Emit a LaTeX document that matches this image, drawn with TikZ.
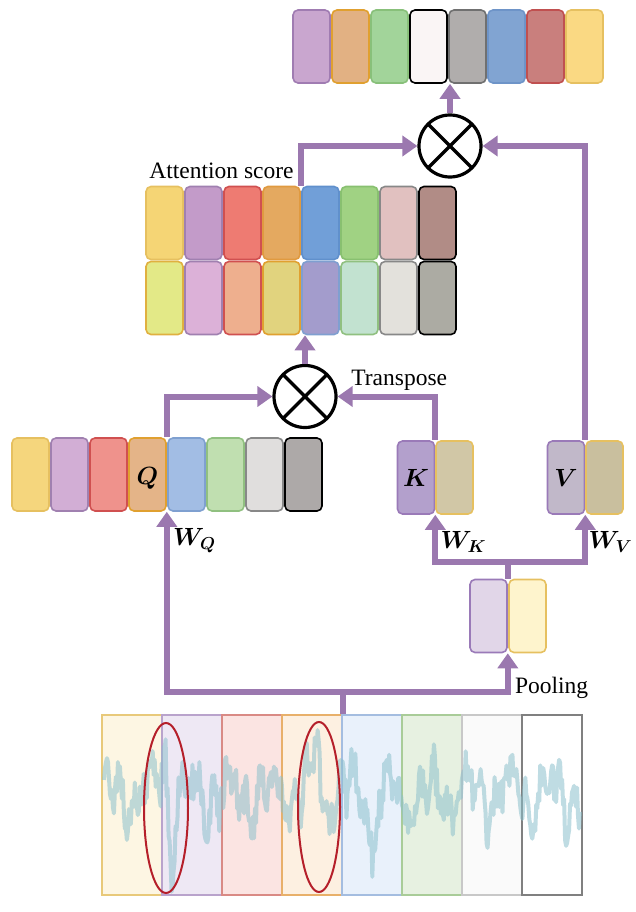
\documentclass[tikz,border=0pt]{standalone}
\usepackage{fontspec}
\setmainfont{Liberation Serif}
\usepackage{bm}
\usetikzlibrary{arrows.meta,calc}
\definecolor{flow}{HTML}{9B78AF}
\definecolor{ring}{HTML}{B51F2A}
\definecolor{wave}{HTML}{8CC0CC}
\definecolor{kfill}{HTML}{B3A0CC}
\definecolor{vfill}{HTML}{C1B8C9}
\definecolor{kvborder}{HTML}{9A7AB8}
\definecolor{kvtone}{HTML}{D1C7A6}
\definecolor{vtone}{HTML}{C9BF9E}
\definecolor{toneborder}{HTML}{E6C060}
\definecolor{poolfill}{HTML}{E1D6E8}
\definecolor{pooltone}{HTML}{FEF4CD}

\begin{document}
\begin{tikzpicture}[
  x=1pt, y=-1pt,
  font=\fontsize{23.5}{28}\selectfont,
  cell/.style={rounded corners=5pt, line width=1.6pt, minimum width=37pt, minimum height=73pt, inner sep=0pt},
  panel/.style={line width=1.5pt, minimum width=60pt, minimum height=180pt, inner sep=0pt},
  flowline/.style={draw=flow, line width=6pt, -{Triangle[length=15pt, width=20pt]}},
  mul/.style={circle, draw, line width=3.2pt, minimum size=62pt, inner sep=0pt,
    path picture={\draw[line width=3.2pt] (path picture bounding box.north west) -- (path picture bounding box.south east)
      (path picture bounding box.north east) -- (path picture bounding box.south west);}},
  lbl/.style={inner sep=0pt}
]
\useasboundingbox (0,0) rectangle (635,912);

% Output sequence
\foreach \f/\d [count=\i] in {C9A6CF/A07CB2, E2B183/E0A030, A2D49A/88C07A, FAF5F5/000000, B0ADAC/707070, 81A4D2/6E94C8, C97F7D/C05050, FAD983/E6C060} {
  \definecolor{cf}{HTML}{\f}\definecolor{cd}{HTML}{\d}
  \node[cell, fill=cf, draw=cd] (out\i) at ({311.5+39*(\i-1)}, 46.5) {};
}

% Attention score, two rows
\foreach \f/\d [count=\i] in {F5D575/E6C060, C39BC9/A080B0, EE7B72/D05050, E4A960/E09A40, 719FD8/6090CC, A0D283/88C070, E1C1C0/888888, B18C86/000000} {
  \definecolor{cf}{HTML}{\f}\definecolor{cd}{HTML}{\d}
  \node[cell, fill=cf, draw=cd] (atta\i) at ({164.5+39*(\i-1)}, 223) {};
}
\foreach \f/\d [count=\i] in {E3E987/E0B040, DCB1D8/A080B0, EEAF8E/D05050, E1D37E/E0A030, A39CCC/7F9FD0, C2E2D0/90C080, E3E1DC/888888, ACABA3/000000} {
  \definecolor{cf}{HTML}{\f}\definecolor{cd}{HTML}{\d}
  \node[cell, fill=cf, draw=cd] (attb\i) at ({164.5+39*(\i-1)}, 298) {};
}
\node[lbl, anchor=base west] (attlbl) at ($(atta1.north west)+(4,-7)$) {Attention score};

% Query sequence
\foreach \f/\d [count=\i] in {F5D67D/E6C060, D2AED5/A080B0, EF928C/D05050, E4B488/E0A030, A2BDE4/7FA0D0, C0DFB0/90C080, E0DEDD/888888, ADA9A8/000000} {
  \definecolor{cf}{HTML}{\f}\definecolor{cd}{HTML}{\d}
  \node[cell, fill=cf, draw=cd] (q\i) at ({30.5+39*(\i-1)}, 474.5) {};
}
\node[lbl] (qlbl) at ($(q4)+(0,4)$) {$\bm{Q}$};

% Key, value and pooled tokens
\node[cell, fill=kfill, draw=kvborder] (k1) at (416,477.5) {$\bm{K}$};
\node[cell, fill=kvtone, draw=toneborder] (k2) at (454.5,477.5) {};
\node[cell, fill=vfill, draw=kvborder] (v1) at (566,477.5) {$\bm{V}$};
\node[cell, fill=vtone, draw=toneborder] (v2) at (604.5,477.5) {};
\node[cell, fill=poolfill, draw=kvborder] (pool1) at (488.5,616) {};
\node[cell, fill=pooltone, draw=toneborder] (pool2) at (527.5,616) {};

% Products
\node[mul] (mul1) at (305,396.5) {};
\node[mul] (mul2) at (450,146) {};

% Input signal split into patches
\foreach \f/\d [count=\i] in {FDF6E3/E8C97A, EEE8F4/B9A3CC, FBE4E2/D98A85, FDF0E1/E8B06A, E9F1FB/A4BDE0, E7F1E1/A9CC98, FAFAFA/C8C8C8, FFFFFF/808080} {
  \definecolor{cf}{HTML}{\f}\definecolor{cd}{HTML}{\d}
  \node[panel, fill=cf, draw=cd] (sig\i) at ({132+60*(\i-1)}, 805) {};
}
\pgfmathsetseed{11}
\draw[wave, line width=4pt, opacity=0.55, line join=round]
  plot[domain=104:580, samples=480] (\x, {795 + 18*sin(9*\x) + 12*sin(23*\x+30) + 8*sin(31*(\x-100)) + 20*rand
    - 60*max(0,1-abs(\x-164)/5) + 70*max(0,1-abs(\x-171)/6)
    - 65*max(0,1-abs(\x-316)/5) + 60*max(0,1-abs(\x-373)/5)});
\draw[ring, line width=2pt] (166,808) ellipse [x radius=22, y radius=85];
\draw[ring, line width=2pt] (319,807) ellipse [x radius=21, y radius=85];

% Connectors
\coordinate (hub) at ($(sig4.north east)+(0,-22)$);
\draw[flowline] (sig4.north east) -- (hub) -| (q4.south east);
\draw[flowline] (hub) -| (pool1.south east);
\coordinate (fork) at ($(pool1.north east)+(0,-17)$);
\draw[flowline] (pool1.north east) -- (fork) -| (k1.south east);
\draw[flowline] (fork) -| (v1.south east);
\draw[flowline] (q4.north east) |- (mul1.west);
\draw[flowline] (k1.north east) |- (mul1.east);
\draw[flowline] (mul1.north) -- (mul1.north |- attb1.south);
\draw[flowline] (atta5.north west) |- (mul2.west);
\draw[flowline] (v1.north east) |- (mul2.east);
\draw[flowline] (mul2.north) -- (mul2.north |- out1.south);

% Labels on the connectors
\node[lbl, anchor=west] (wq) at ($(q4.south east)+(6,29)$) {$\bm{W}_{\bm{Q}}$};
\node[lbl, anchor=west] (wk) at ($(k1.south east)+(5,27)$) {$\bm{W}_{\bm{K}}$};
\node[lbl, anchor=west] (wv) at ($(v1.south east)+(3,27)$) {$\bm{W}_{\bm{V}}$};
\node[lbl, anchor=base east] (tlbl) at ($(k1.north east)+(12,-55)$) {Transpose};
\node[lbl, anchor=base west] (plbl) at ($(pool1.south east)+(7,40)$) {Pooling};

\end{tikzpicture}
\end{document}
